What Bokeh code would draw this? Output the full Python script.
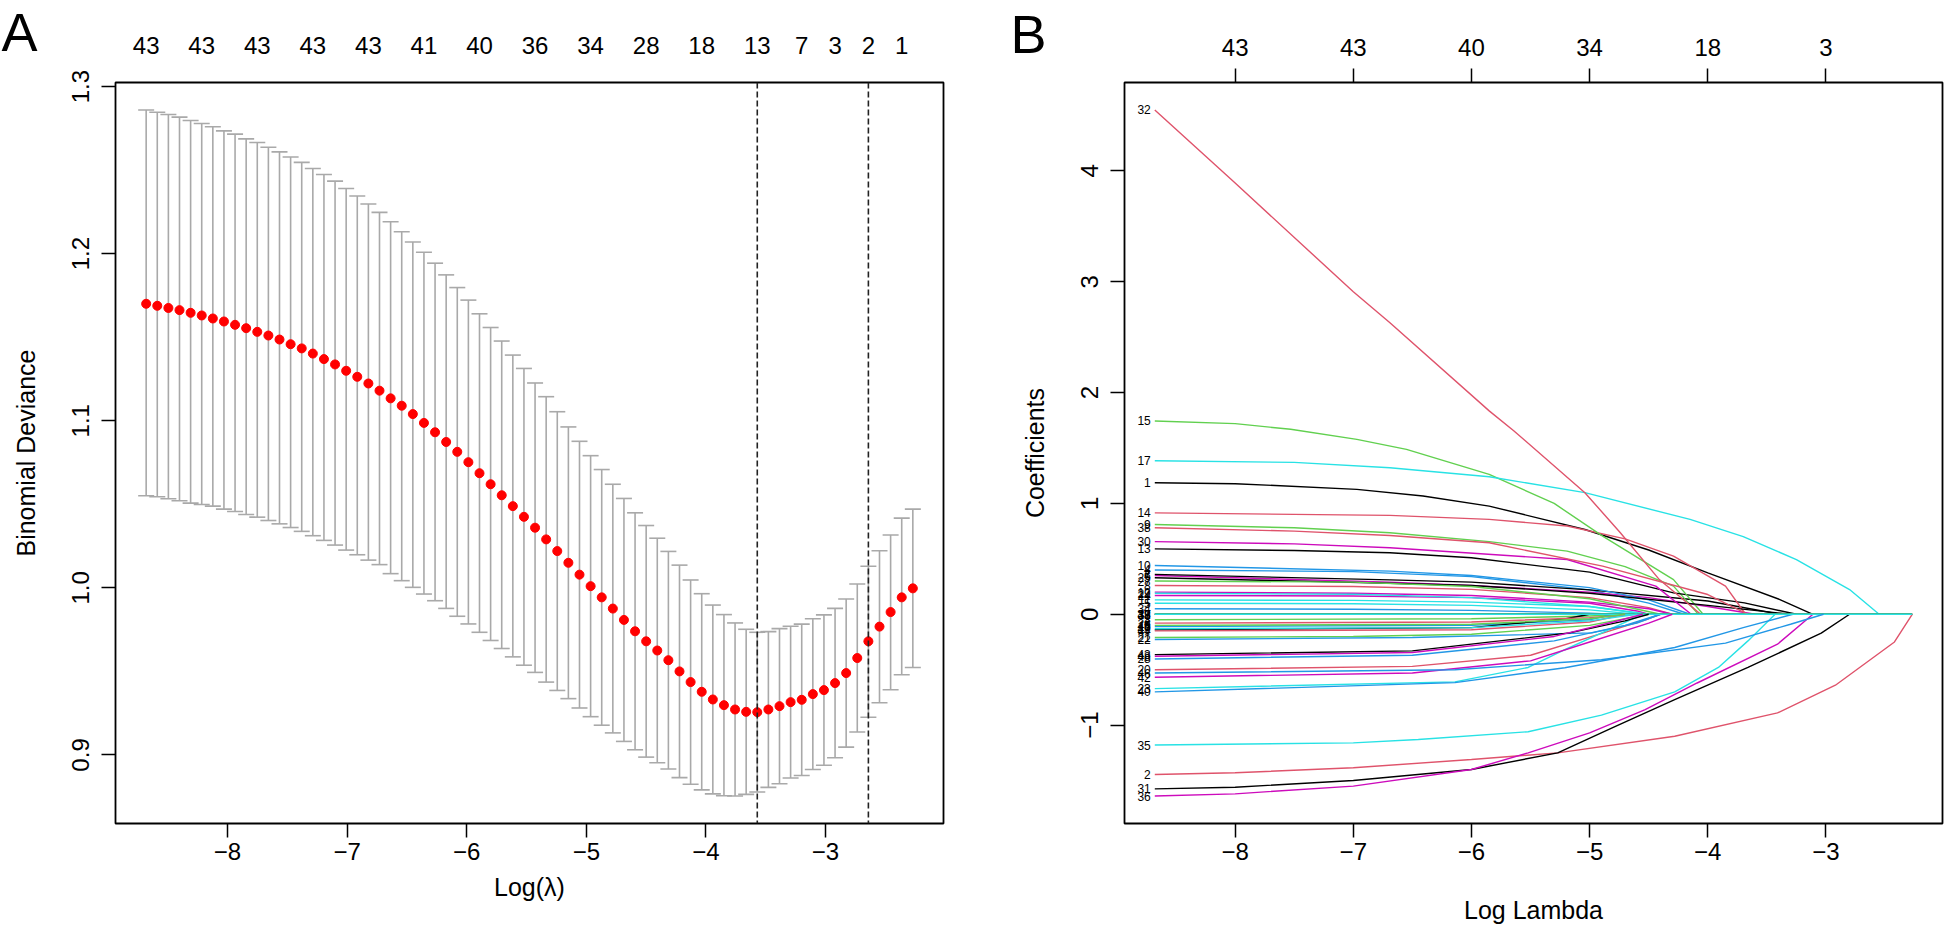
import numpy as np
from bokeh.plotting import figure
from bokeh.models import (Range1d, LinearAxis, FixedTicker, CustomJSTickFormatter,
                          PrintfTickFormatter, Span, Whisker, TeeHead, ColumnDataSource)
from bokeh.layouts import row
from bokeh.embed import file_html
from bokeh.resources import INLINE
from bokeh.core.properties import value

FONT = "Liberation Sans"

# ---------------- Panel A data (cv.glmnet) ----------------
# 70 lambda values, evenly spaced on the log scale (glmnet lambda grid)
log_lambda = np.linspace(-8.68, -2.27, 70)

cvm = [1.170, 1.1688, 1.1675, 1.1662, 1.1646, 1.163, 1.1612, 1.1594, 1.1574, 1.1554,
       1.1532, 1.151, 1.1486, 1.1458, 1.1433, 1.1402, 1.1369, 1.1337, 1.1299, 1.1263,
       1.1223, 1.118, 1.1134, 1.109, 1.104, 1.0987, 1.0931, 1.0873, 1.0814, 1.0752,
       1.0686, 1.062, 1.0554, 1.0489, 1.0425, 1.036, 1.029, 1.022, 1.015, 1.0079,
       1.001, 0.9943, 0.9876, 0.9808, 0.974, 0.968, 0.9625, 0.9567, 0.950, 0.9436,
       0.9378, 0.9332, 0.9298, 0.9272, 0.9258, 0.9256, 0.9272, 0.9292, 0.9316, 0.933,
       0.9364, 0.9388, 0.943, 0.949, 0.958, 0.968, 0.9768, 0.9855, 0.9943, 0.9997]
cvup = [1.286, 1.2846, 1.2833, 1.2817, 1.2797, 1.2779, 1.2759, 1.2735, 1.2715, 1.2687,
        1.2665, 1.2637, 1.2609, 1.2578, 1.2546, 1.251, 1.2474, 1.2434, 1.239, 1.2345,
        1.2297, 1.2247, 1.2191, 1.2131, 1.207, 1.2008, 1.1943, 1.1873, 1.1797, 1.1722,
        1.164, 1.1558, 1.1477, 1.1393, 1.1313, 1.1226, 1.1144, 1.1054, 1.0963, 1.0877,
        1.0791, 1.0708, 1.062, 1.0535, 1.0449, 1.0373, 1.0297, 1.0218, 1.0136, 1.0047,
        0.9965, 0.9897, 0.984, 0.979, 0.9752, 0.9734, 0.9738, 0.9756, 0.977, 0.9783,
        0.9815, 0.9838, 0.9877, 0.9933, 1.0023, 1.0129, 1.0222, 1.0316, 1.0417, 1.0471]
cvlo = [1.0551, 1.0545, 1.0533, 1.0521, 1.0507, 1.0499, 1.0489, 1.0471, 1.0457, 1.0439,
        1.0423, 1.0403, 1.0383, 1.0361, 1.0338, 1.0312, 1.0284, 1.0256, 1.0226, 1.0198,
        1.0166, 1.0139, 1.0085, 1.0043, 1.0003, 0.9963, 0.9923, 0.9877, 0.983, 0.9784,
        0.9734, 0.9685, 0.9637, 0.9587, 0.9537, 0.9494, 0.9436, 0.9386, 0.9337, 0.9281,
        0.9229, 0.9178, 0.9132, 0.9081, 0.9031, 0.8987, 0.8953, 0.8916, 0.8864, 0.8825,
        0.8791, 0.8767, 0.8756, 0.8754, 0.8764, 0.8778, 0.8806, 0.8828, 0.8862, 0.8877,
        0.8913, 0.8938, 0.8983, 0.9047, 0.9137, 0.9226, 0.9312, 0.939, 0.948, 0.9523]

top_idx_A = [0, 5, 10, 15, 20, 25, 30, 35, 40, 45, 50, 55, 59, 62, 65, 68]
top_lab_A = ["43", "43", "43", "43", "43", "41", "40", "36", "34", "28", "18", "13", "7", "3", "2", "1"]
idx_min, idx_1se = 55, 65

x_ticks = [-8, -7, -6, -5, -4, -3]
y_ticks_A = [0.9, 1.0, 1.1, 1.2, 1.3]

# ---------------- Panel B data (coefficient paths) ----------------
top_lab_B = ["43", "43", "40", "34", "18", "3"]
y_ticks_B = [-1, 0, 1, 2, 3, 4]
palette6 = ["#000000", "#DF536B", "#61D04F", "#2297E6", "#28E2E5", "#CD0BBC"]

# variable -> (log lambda points, coefficient values)
paths = {
    1:  ([-8.68, -8, -6.97, -6.41, -5.85, -5.04, -4.5, -4.0, -3.39, -3.11], [1.186, 1.178, 1.127, 1.067, 0.976, 0.765, 0.58, 0.374, 0.133, 0]),
    2:  ([-8.68, -8, -7, -6, -5.27, -4.28, -3.41, -2.92, -2.42, -2.27], [-1.445, -1.43, -1.385, -1.31, -1.25, -1.10, -0.89, -0.64, -0.25, 0]),
    3:  ([-8.68, -6, -5, -4.7], [-0.05, -0.04, -0.015, 0]),
    4:  ([-8.68, -7, -6, -5, -4.5, -4.2], [0.40, 0.385, 0.34, 0.22, 0.10, 0]),
    5:  ([-8.68, -7, -6, -5, -4.6], [0.10, 0.095, 0.08, 0.04, 0]),
    6:  ([-8.68, -6.69, -6, -5, -4.5, -4, -3.6], [0.35, 0.29, 0.26, 0.20, 0.15, 0.07, 0]),
    7:  ([-8.68, -6.69, -6, -5, -4, -3.39], [0.36, 0.31, 0.29, 0.22, 0.12, 0]),
    8:  ([-8.68, -7, -6, -5, -4.5, -4.3], [0.26, 0.25, 0.225, 0.15, 0.06, 0]),
    9:  ([-8.68, -7.5, -6.69, -5.85, -5.19, -4.7, -4.29, -4.08], [0.81, 0.78, 0.735, 0.655, 0.570, 0.43, 0.254, 0]),
    10: ([-8.68, -6.69, -6, -5, -4.5, -4.15], [0.44, 0.389, 0.35, 0.24, 0.13, 0]),
    11: ([-8.68, -7, -6, -5, -4.6, -4.55], [0.13, 0.125, 0.11, 0.07, 0.01, 0]),
    12: ([-8.68, -7, -6, -5, -4.5, -4.3], [0.20, 0.19, 0.17, 0.11, 0.05, 0]),
    13: ([-8.68, -7.5, -6.69, -6, -5, -4.29, -3.69, -3.25], [0.59, 0.575, 0.555, 0.51, 0.38, 0.193, 0.103, 0]),
    14: ([-8.68, -6.69, -5.85, -5.19, -4.7, -4.29, -3.85, -3.68], [0.915, 0.892, 0.856, 0.796, 0.68, 0.525, 0.254, 0]),
    15: ([-8.68, -8, -7.53, -6.97, -6.55, -5.85, -5.3, -4.89, -4.29, -4.04], [1.744, 1.72, 1.669, 1.578, 1.488, 1.262, 1.0, 0.705, 0.313, 0]),
    16: ([-8.68, -6, -5, -4.8], [-0.11, -0.10, -0.05, 0]),
    17: ([-8.68, -7.5, -6.69, -5.85, -5.04, -4.15, -3.7, -3.25, -2.80, -2.55], [1.385, 1.37, 1.322, 1.241, 1.097, 0.856, 0.70, 0.494, 0.223, 0]),
    18: ([-8.68, -2.27], [0, 0]),
    19: ([-8.68, -6, -5.2, -5.0], [-0.14, -0.12, -0.04, 0]),
    20: ([-8.68, -6.5, -5.5, -4.89, -4.5, -4.4], [-0.50, -0.47, -0.37, -0.17, -0.04, 0]),
    21: ([-8.68, -7, -6, -5, -4.5], [-0.21, -0.2, -0.18, -0.10, 0]),
    22: ([-8.68, -6.5, -4.98, -4.6, -4.4], [-0.228, -0.21, -0.168, -0.08, 0]),
    23: ([-8.68, -6.14, -5.52, -5.21, -4.8, -4.55], [-0.671, -0.61, -0.48, -0.32, -0.12, 0]),
    24: ([-8.68, -7, -6, -5, -4.6, -4.5], [0.17, 0.165, 0.15, 0.10, 0.03, 0]),
    25: ([-8.68, -6.69, -6, -5, -4, -3.3], [0.33, 0.28, 0.26, 0.19, 0.08, 0]),
    26: ([-8.68, -6, -5, -4.6], [-0.08, -0.07, -0.03, 0]),
    27: ([-8.68, -7, -6, -5, -4.4], [0.30, 0.29, 0.25, 0.14, 0]),
    28: ([-8.68, -6.5, -5.3, -4.7, -4.4], [-0.403, -0.37, -0.24, -0.10, 0]),
    29: ([-8.68, -7, -6, -5, -4.5], [0.19, 0.18, 0.15, 0.07, 0]),
    30: ([-8.68, -7.5, -6.69, -5.19, -4.44, -4.14], [0.655, 0.635, 0.60, 0.494, 0.254, 0]),
    31: ([-8.68, -8, -7, -6, -5.27, -4.8, -4.28, -3.66, -3.04, -2.80], [-1.575, -1.56, -1.50, -1.40, -1.25, -1.02, -0.77, -0.48, -0.17, 0]),
    32: ([-8.68, -8, -7, -6.69, -5.85, -5.64, -5.04, -4.74, -4.41, -4.06], [4.55, 3.89, 2.91, 2.63, 1.835, 1.654, 1.097, 0.735, 0.313, 0]),
    33: ([-8.68, -2.27], [0, 0]),
    34: ([-8.68, -7, -6, -5, -4.8], [0.05, 0.045, 0.035, 0.01, 0]),
    35: ([-8.68, -7, -6.45, -5.52, -4.90, -4.28, -3.91, -3.66, -3.43], [-1.18, -1.16, -1.13, -1.06, -0.91, -0.70, -0.48, -0.24, 0]),
    36: ([-8.68, -8, -7, -6, -5.52, -5, -4.53, -4.09, -3.41, -3.11], [-1.64, -1.62, -1.55, -1.40, -1.25, -1.07, -0.86, -0.62, -0.27, 0]),
    37: ([-8.68, -2.27], [0, 0]),
    38: ([-8.68, -7.5, -6.69, -5.85, -4.89, -4.0, -3.66], [0.78, 0.75, 0.711, 0.645, 0.434, 0.178, 0]),
    39: ([-8.68, -2.27], [0, 0]),
    40: ([-8.68, -6.14, -5.21, -4.28, -3.7, -3.28], [-0.70, -0.617, -0.483, -0.30, -0.12, 0]),
    41: ([-8.68, -2.27], [0, 0]),
    42: ([-8.68, -6.5, -5.5, -5.0, -4.5, -4.3], [-0.568, -0.53, -0.42, -0.25, -0.08, 0]),
    43: ([-8.68, -6.5, -5.17, -4.7, -4.5], [-0.364, -0.33, -0.168, -0.06, 0]),
    44: ([-8.68, -6, -5, -4.7], [-0.15, -0.14, -0.07, 0]),
    45: ([-8.68, -6, -5, -4.7], [-0.10, -0.09, -0.04, 0]),
    46: ([-8.68, -6.14, -4.90, -3.85, -3.3, -3.02], [-0.53, -0.50, -0.41, -0.26, -0.09, 0]),
    47: ([-8.68, -6, -5, -4.6], [-0.13, -0.12, -0.06, 0]),
    48: ([-8.68, -6.5, -5.3, -4.8, -4.55], [-0.379, -0.345, -0.20, -0.07, 0]),
}

# ---------------- helpers ----------------
def pad(lo, hi, f=0.04):
    d = (hi - lo) * f
    return lo - d, hi + d

def style_axis(ax, tick_out=14, standoff=12, size="24px"):
    ax.axis_line_color = None
    ax.major_tick_line_color = "black"
    ax.major_tick_line_width = 1.5
    ax.major_tick_out = tick_out
    ax.major_tick_in = 0
    ax.minor_tick_line_color = None
    ax.major_label_text_font = FONT
    ax.major_label_text_font_size = size
    ax.major_label_text_color = "black"
    ax.major_label_standoff = standoff
    ax.axis_label_text_font = FONT
    ax.axis_label_text_font_size = "25px"
    ax.axis_label_text_font_style = "normal"
    ax.axis_label_text_color = "black"

def panel_letter(p, letter, offset):
    t = p.title
    t.text = letter
    t.align = "left"
    t.offset = offset
    t.standoff = -56
    t.vertical_align = "bottom"
    t.text_font = FONT
    t.text_font_size = "54px"
    t.text_font_style = "normal"
    t.text_color = "black"

minus_fmt = CustomJSTickFormatter(code="""
    const v = Math.round(tick);
    return v < 0 ? "\u2212" + Math.abs(v) : String(v);
""")

H = 932
xr = pad(min(log_lambda), max(log_lambda))

# ---------------- Panel A ----------------
ya = pad(min(cvlo), max(cvup))
pA = figure(width=963, height=H, output_backend="svg", toolbar_location=None, title="A",
            x_range=Range1d(*xr), y_range=Range1d(*ya),
            min_border_left=115, min_border_right=20, min_border_top=82, min_border_bottom=109)
pA.xgrid.visible = False
pA.ygrid.visible = False
pA.outline_line_color = "black"
pA.outline_line_width = 1.8
pA.background_fill_color = "white"
pA.border_fill_color = "white"

srcA = ColumnDataSource(dict(x=log_lambda, cvm=cvm, up=cvup, lo=cvlo))
wh = Whisker(base="x", upper="up", lower="lo", source=srcA, dimension="height",
             line_color="darkgrey", line_width=1.6,
             upper_head=TeeHead(size=16, line_color="darkgrey", line_width=1.6),
             lower_head=TeeHead(size=16, line_color="darkgrey", line_width=1.6))
pA.add_layout(wh)
pA.scatter("x", "cvm", source=srcA, size=9, color="red", line_color="red")

for idx in (idx_min, idx_1se):
    pA.add_layout(Span(location=log_lambda[idx], dimension="height", line_color="#222222",
                       line_width=1.6, line_dash="6 3"))

pA.xaxis.ticker = FixedTicker(ticks=x_ticks)
pA.xaxis.formatter = minus_fmt
pA.xaxis.axis_label = "Log(λ)"
style_axis(pA.xaxis[0], standoff=5)
pA.xaxis.axis_label_standoff = 10

pA.yaxis.ticker = FixedTicker(ticks=y_ticks_A)
pA.yaxis.formatter = PrintfTickFormatter(format="%.1f")
pA.yaxis.major_label_orientation = "vertical"
pA.yaxis.axis_label = "Binomial Deviance"
style_axis(pA.yaxis[0], standoff=12)
pA.yaxis.axis_label_standoff = 30

topA = LinearAxis(ticker=FixedTicker(ticks=[float(log_lambda[i]) for i in top_idx_A]),
                  formatter=CustomJSTickFormatter(args=dict(labs=top_lab_A), code="return labs[index];"))
style_axis(topA, tick_out=0, standoff=29)
topA.major_tick_line_color = None
pA.add_layout(topA, "above")

panel_letter(pA, "A", -114)

# ---------------- Panel B ----------------
allv = [v for k in paths for v in paths[k][1]]
yb = pad(min(allv), max(allv))
pB = figure(width=981, height=H, output_backend="svg", toolbar_location=None, title="B",
            x_range=Range1d(*xr), y_range=Range1d(*yb),
            min_border_left=161, min_border_right=2, min_border_top=82, min_border_bottom=109)
pB.xgrid.visible = False
pB.ygrid.visible = False
pB.outline_line_color = "black"
pB.outline_line_width = 1.8

keys = sorted(paths)
pB.multi_line(xs=[paths[k][0] for k in keys], ys=[paths[k][1] for k in keys],
              line_color=[palette6[(k - 1) % 6] for k in keys], line_width=1.4)
pB.text(x=[paths[k][0][0] for k in keys], y=[paths[k][1][0] for k in keys],
        text=[str(k) for k in keys], text_font=value(FONT), text_font_size="12px",
        text_align="right", text_baseline="middle", x_offset=-4, text_color="black")

pB.xaxis.ticker = FixedTicker(ticks=x_ticks)
pB.xaxis.formatter = minus_fmt
pB.xaxis.axis_label = "Log Lambda"
style_axis(pB.xaxis[0], standoff=5)
pB.xaxis.axis_label_standoff = 33

pB.yaxis.ticker = FixedTicker(ticks=y_ticks_B)
pB.yaxis.formatter = minus_fmt
pB.yaxis.major_label_orientation = "vertical"
pB.yaxis.axis_label = "Coefficients"
style_axis(pB.yaxis[0], standoff=12)
pB.yaxis.axis_label_standoff = 30

topB = LinearAxis(ticker=FixedTicker(ticks=x_ticks),
                  formatter=CustomJSTickFormatter(args=dict(labs=top_lab_B), code="return labs[index];"))
style_axis(topB, tick_out=14, standoff=13)
pB.add_layout(topB, "above")

panel_letter(pB, "B", -114)

layout = row(pA, pB)
open("out.html", "w").write(file_html(layout, INLINE))
